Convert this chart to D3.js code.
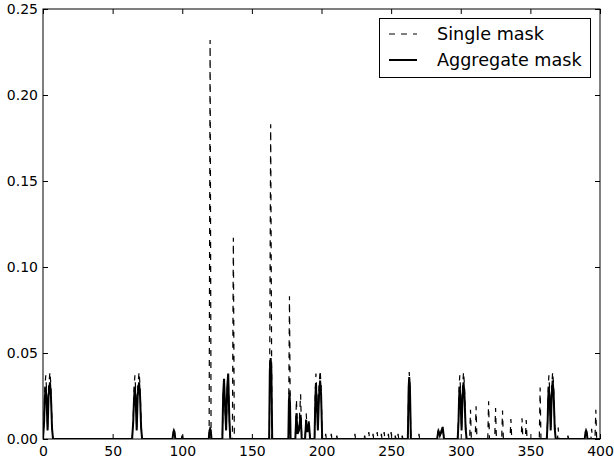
<!DOCTYPE html>
<html>
<head>
<meta charset="utf-8">
<script src="https://cdn.jsdelivr.net/npm/d3@7/dist/d3.min.js"></script>
<style>
  body { margin: 0; background: #fff; }
  svg text { font-family: "DejaVu Sans", sans-serif; fill: #000; }
</style>
</head>
<body>
<script>
// tick values
var xTicks = [0, 50, 100, 150, 200, 250, 300, 350, 400];
var yTicks = [0, 0.05, 0.10, 0.15, 0.20, 0.25];

// legend labels
var seriesNames = ["Single mask", "Aggregate mask"];

// single mask curve, [position, value]
var singleMask = [
  [0,0],[0.8,0.012],[1.3,0.030],[2,0.037],[2.6,0.028],[3.3,0.006],[4,0.030],[5,0.039],[5.7,0.031],[6.5,0.008],[7.2,0],
  [64,0],[64.8,0.012],[65.4,0.030],[66,0.037],[66.6,0.028],[67.3,0.006],[68,0.030],[69,0.039],[69.7,0.031],[70.5,0.008],[71.2,0],
  [92.8,0],[94,0.004],[95.2,0],
  [119.3,0],[120,0.232],[120.7,0],
  [128.8,0],[129.4,0.026],[130,0.034],[130.7,0.018],[131.5,0.005],[132.3,0.028],[133,0.037],[133.8,0.012],[134.5,0],
  [136,0],[136.7,0.117],[137.4,0],
  [162.6,0],[163.5,0.183],[164.4,0],
  [176.3,0],[177,0.083],[177.7,0],
  [181.2,0],[182,0.023],[182.8,0.003],[183.8,0.006],[185,0.026],[185.8,0],
  [188.2,0],[189,0.015],[189.8,0.004],[191,0.012],[191.8,0],
  [195,0],[195.6,0.030],[196,0.038],[196.6,0.028],[197.4,0.006],[198.2,0.030],[199,0.040],[199.7,0.031],[200.5,0],
  [202.5,0],[203,0.003],[203.5,0],
  [206.5,0],[207,0.003],[207.5,0],
  [210.5,0],[211,0.002],[211.5,0],
  [223.5,0],[224,0.003],[224.5,0],
  [230.5,0],[231,0.002],[231.5,0],[233.5,0],[234,0.004],[234.5,0],[236.5,0],[237,0.003],[237.5,0],
  [239.5,0],[240,0.004],[240.5,0],[242.5,0],[243,0.003],[243.5,0],[244.5,0],[245,0.004],[245.5,0],
  [247.5,0],[248,0.003],[248.5,0],[249.5,0],[250,0.004],[250.5,0],[252.5,0],[253,0.002],[253.5,0],
  [254.5,0],[255,0.003],[255.5,0],[257.5,0],[258,0.002],[258.5,0],
  [262,0],[262.6,0.030],[263,0.039],[263.5,0.030],[264.2,0],
  [269.5,0],[270,0.003],[270.5,0],
  [283,0],[284,0.006],[285,0.002],[286,0.005],[287,0.007],[288,0],
  [297.8,0],[298.4,0.012],[298.8,0.030],[299.3,0.037],[299.9,0.028],[300.6,0.006],[301.3,0.030],[302,0.039],[302.7,0.031],[303.5,0.008],[304.2,0],
  [306.4,0],[307,0.017],[307.6,0],
  [310.4,0],[311,0.019],[311.6,0],
  [319.4,0],[320,0.022],[320.6,0],
  [324.4,0],[325,0.018],[325.6,0],
  [329.4,0],[330,0.0165],[330.6,0],
  [335.4,0],[336,0.0116],[336.6,0],
  [343.4,0],[344,0.012],[344.6,0],
  [346.4,0],[347,0.011],[347.6,0],
  [356.4,0],[357,0.030],[357.6,0],
  [361.8,0],[362.4,0.012],[362.8,0.030],[363.3,0.037],[363.9,0.028],[364.6,0.006],[365.3,0.030],[366,0.039],[366.7,0.031],[367.5,0.008],[368.2,0],
  [369.5,0],[370,0.0066],[370.5,0],
  [376.5,0],[377,0.002],[377.5,0],
  [389,0],[390,0.004],[391,0],
  [393.5,0],[394,0.006],[394.5,0],
  [396.4,0],[397,0.017],[397.6,0],
  [400,0]
];

// aggregate mask curve
var aggregateMask = [
  [0,0],[0.8,0.010],[1.3,0.024],[2,0.030],[2.6,0.022],[3.3,0.005],[4,0.025],[5,0.033],[5.7,0.025],[6.5,0.006],[7.2,0],
  [64,0],[64.8,0.010],[65.4,0.024],[66,0.030],[66.6,0.022],[67.3,0.005],[68,0.025],[69,0.033],[69.7,0.025],[70.5,0.006],[71.2,0],
  [93,0],[93.6,0.004],[94,0.005],[94.5,0.004],[95,0],
  [99.7,0],[100,0.002],[100.3,0],
  [119,0],[119.6,0.005],[120,0.006],[120.5,0.005],[121,0],
  [128.8,0],[129.4,0.026],[130,0.035],[130.7,0.020],[131.5,0.005],[132.3,0.030],[133,0.038],[133.8,0.012],[134.5,0],
  [162.4,0],[162.9,0.040],[163.5,0.047],[164,0.040],[164.6,0],
  [176.2,0],[176.6,0.022],[177,0.027],[177.4,0.020],[177.8,0],
  [181.2,0],[182,0.015],[182.8,0.003],[183.8,0.005],[185,0.014],[185.8,0],
  [188.2,0],[189,0.011],[189.8,0.004],[191,0.009],[191.8,0],
  [195,0],[195.6,0.024],[196,0.031],[196.6,0.022],[197.4,0.005],[198.2,0.025],[199,0.034],[199.7,0.026],[200.5,0],
  [262,0],[262.6,0.030],[263,0.036],[263.5,0.030],[264.2,0],
  [283,0],[284,0.005],[285,0.002],[286,0.004],[287,0.007],[288,0],
  [297.8,0],[298.4,0.010],[298.8,0.024],[299.3,0.030],[299.9,0.022],[300.6,0.005],[301.3,0.025],[302,0.033],[302.7,0.025],[303.5,0.006],[304.2,0],
  [361.8,0],[362.4,0.010],[362.8,0.024],[363.3,0.030],[363.9,0.022],[364.6,0.005],[365.3,0.025],[366,0.034],[366.7,0.026],[367.5,0.006],[368.2,0],
  [389,0],[389.6,0.004],[390,0.005],[390.5,0.004],[391,0],
  [400,0]
];

var margin = {top: 9, right: 14, bottom: 22, left: 43};
var outer_width = 614, outer_height = 461;
var width = outer_width - margin.left - margin.right;
var height = outer_height - margin.top - margin.bottom;

var svg = d3.select("body").append("svg")
    .attr("width", outer_width)
    .attr("height", outer_height)
  .append("g")
    .attr("transform", "translate(" + margin.left + "," + margin.top + ")");

var x = d3.scaleLinear().domain([0, 400]).range([0, width]);
var y = d3.scaleLinear().domain([0, 0.25]).range([height, 0]);

var line = d3.line()
    .x(function(d) { return x(d[0]); })
    .y(function(d) { return y(d[1]); });

svg.append("defs").append("clipPath").attr("id", "clip")
  .append("rect").attr("width", width).attr("height", height);

var plot = svg.append("g").attr("clip-path", "url(#clip)");

// split the dashed curve into one piece per peak, so that the dash
// pattern can be placed around each peak (up and down strokes nearly line up)
var pieces = [], current = [], hasPeak = false;
singleMask.forEach(function(p) {
  if (p[1] == 0) {
    if (hasPeak) { current.push(p); pieces.push(current); }
    current = [p]; hasPeak = false;
  } else {
    current.push(p); hasPeak = true;
  }
});

// dashed single mask first, solid aggregate on top
plot.selectAll("path.single")
    .data(pieces)
    .enter().append("path")
    .attr("class", "single")
    .attr("d", line)
    .attr("fill", "none")
    .attr("stroke", "#000")
    .attr("stroke-width", 1.2)
    .attr("stroke-dasharray", "6,6")
    .attr("stroke-dashoffset", function() {
      var T = this.getTotalLength();
      return (((2 - T / 2) % 12) + 12) % 12;
    });

plot.append("path")
    .datum(aggregateMask)
    .attr("d", line)
    .attr("fill", "none")
    .attr("stroke", "#000")
    .attr("stroke-width", 2);

// axes, ticks pointing inward
var fmtY = d3.format(".2f");

var xAxis = svg.append("g")
    .attr("transform", "translate(0," + height + ")")
    .call(d3.axisBottom(x).tickValues(xTicks).tickSize(-5).tickPadding(7).tickFormat(d3.format("d")));
var yAxis = svg.append("g")
    .call(d3.axisLeft(y).tickValues(yTicks).tickSize(-5).tickPadding(5).tickFormat(fmtY));
var xTop = svg.append("g")
    .call(d3.axisTop(x).tickValues(xTicks).tickSize(-5).tickFormat(""));
var yRight = svg.append("g")
    .attr("transform", "translate(" + width + ",0)")
    .call(d3.axisRight(y).tickValues(yTicks).tickSize(-5).tickFormat(""));

[xAxis, yAxis, xTop, yRight].forEach(function(a) {
  a.select(".domain").remove();
  a.selectAll("line").attr("stroke", "#000").attr("stroke-width", 1);
  a.selectAll("text").style("font-size", "14px").style("font-family", "DejaVu Sans, sans-serif");
});

// frame
svg.append("rect")
    .attr("width", width)
    .attr("height", height)
    .attr("fill", "none")
    .attr("stroke", "#000")
    .attr("stroke-width", 1);

// legend
var legend = svg.append("g").attr("transform", "translate(" + (379 - margin.left) + "," + (18 - margin.top) + ")");
legend.append("rect")
    .attr("x", 0.5).attr("y", 0.5)
    .attr("width", 211).attr("height", 59)
    .attr("fill", "#fff")
    .attr("stroke", "#000")
    .attr("stroke-width", 1);

var legendItems = legend.selectAll(".item")
    .data(seriesNames)
    .enter().append("g")
    .attr("class", "item")
    .attr("transform", function(d, i) { return "translate(0," + (16 + i * 26) + ")"; });

legendItems.append("line")
    .attr("x1", 10).attr("x2", 38)
    .attr("y1", 0).attr("y2", 0)
    .attr("stroke", "#000")
    .attr("stroke-width", function(d, i) { return i == 0 ? 1.2 : 2; })
    .attr("stroke-dasharray", function(d, i) { return i == 0 ? "6,6" : null; });

legendItems.append("text")
    .attr("x", 58)
    .attr("y", 6)
    .style("font-size", "17.6px")
    .text(function(d) { return d; });
</script>
</body>
</html>
